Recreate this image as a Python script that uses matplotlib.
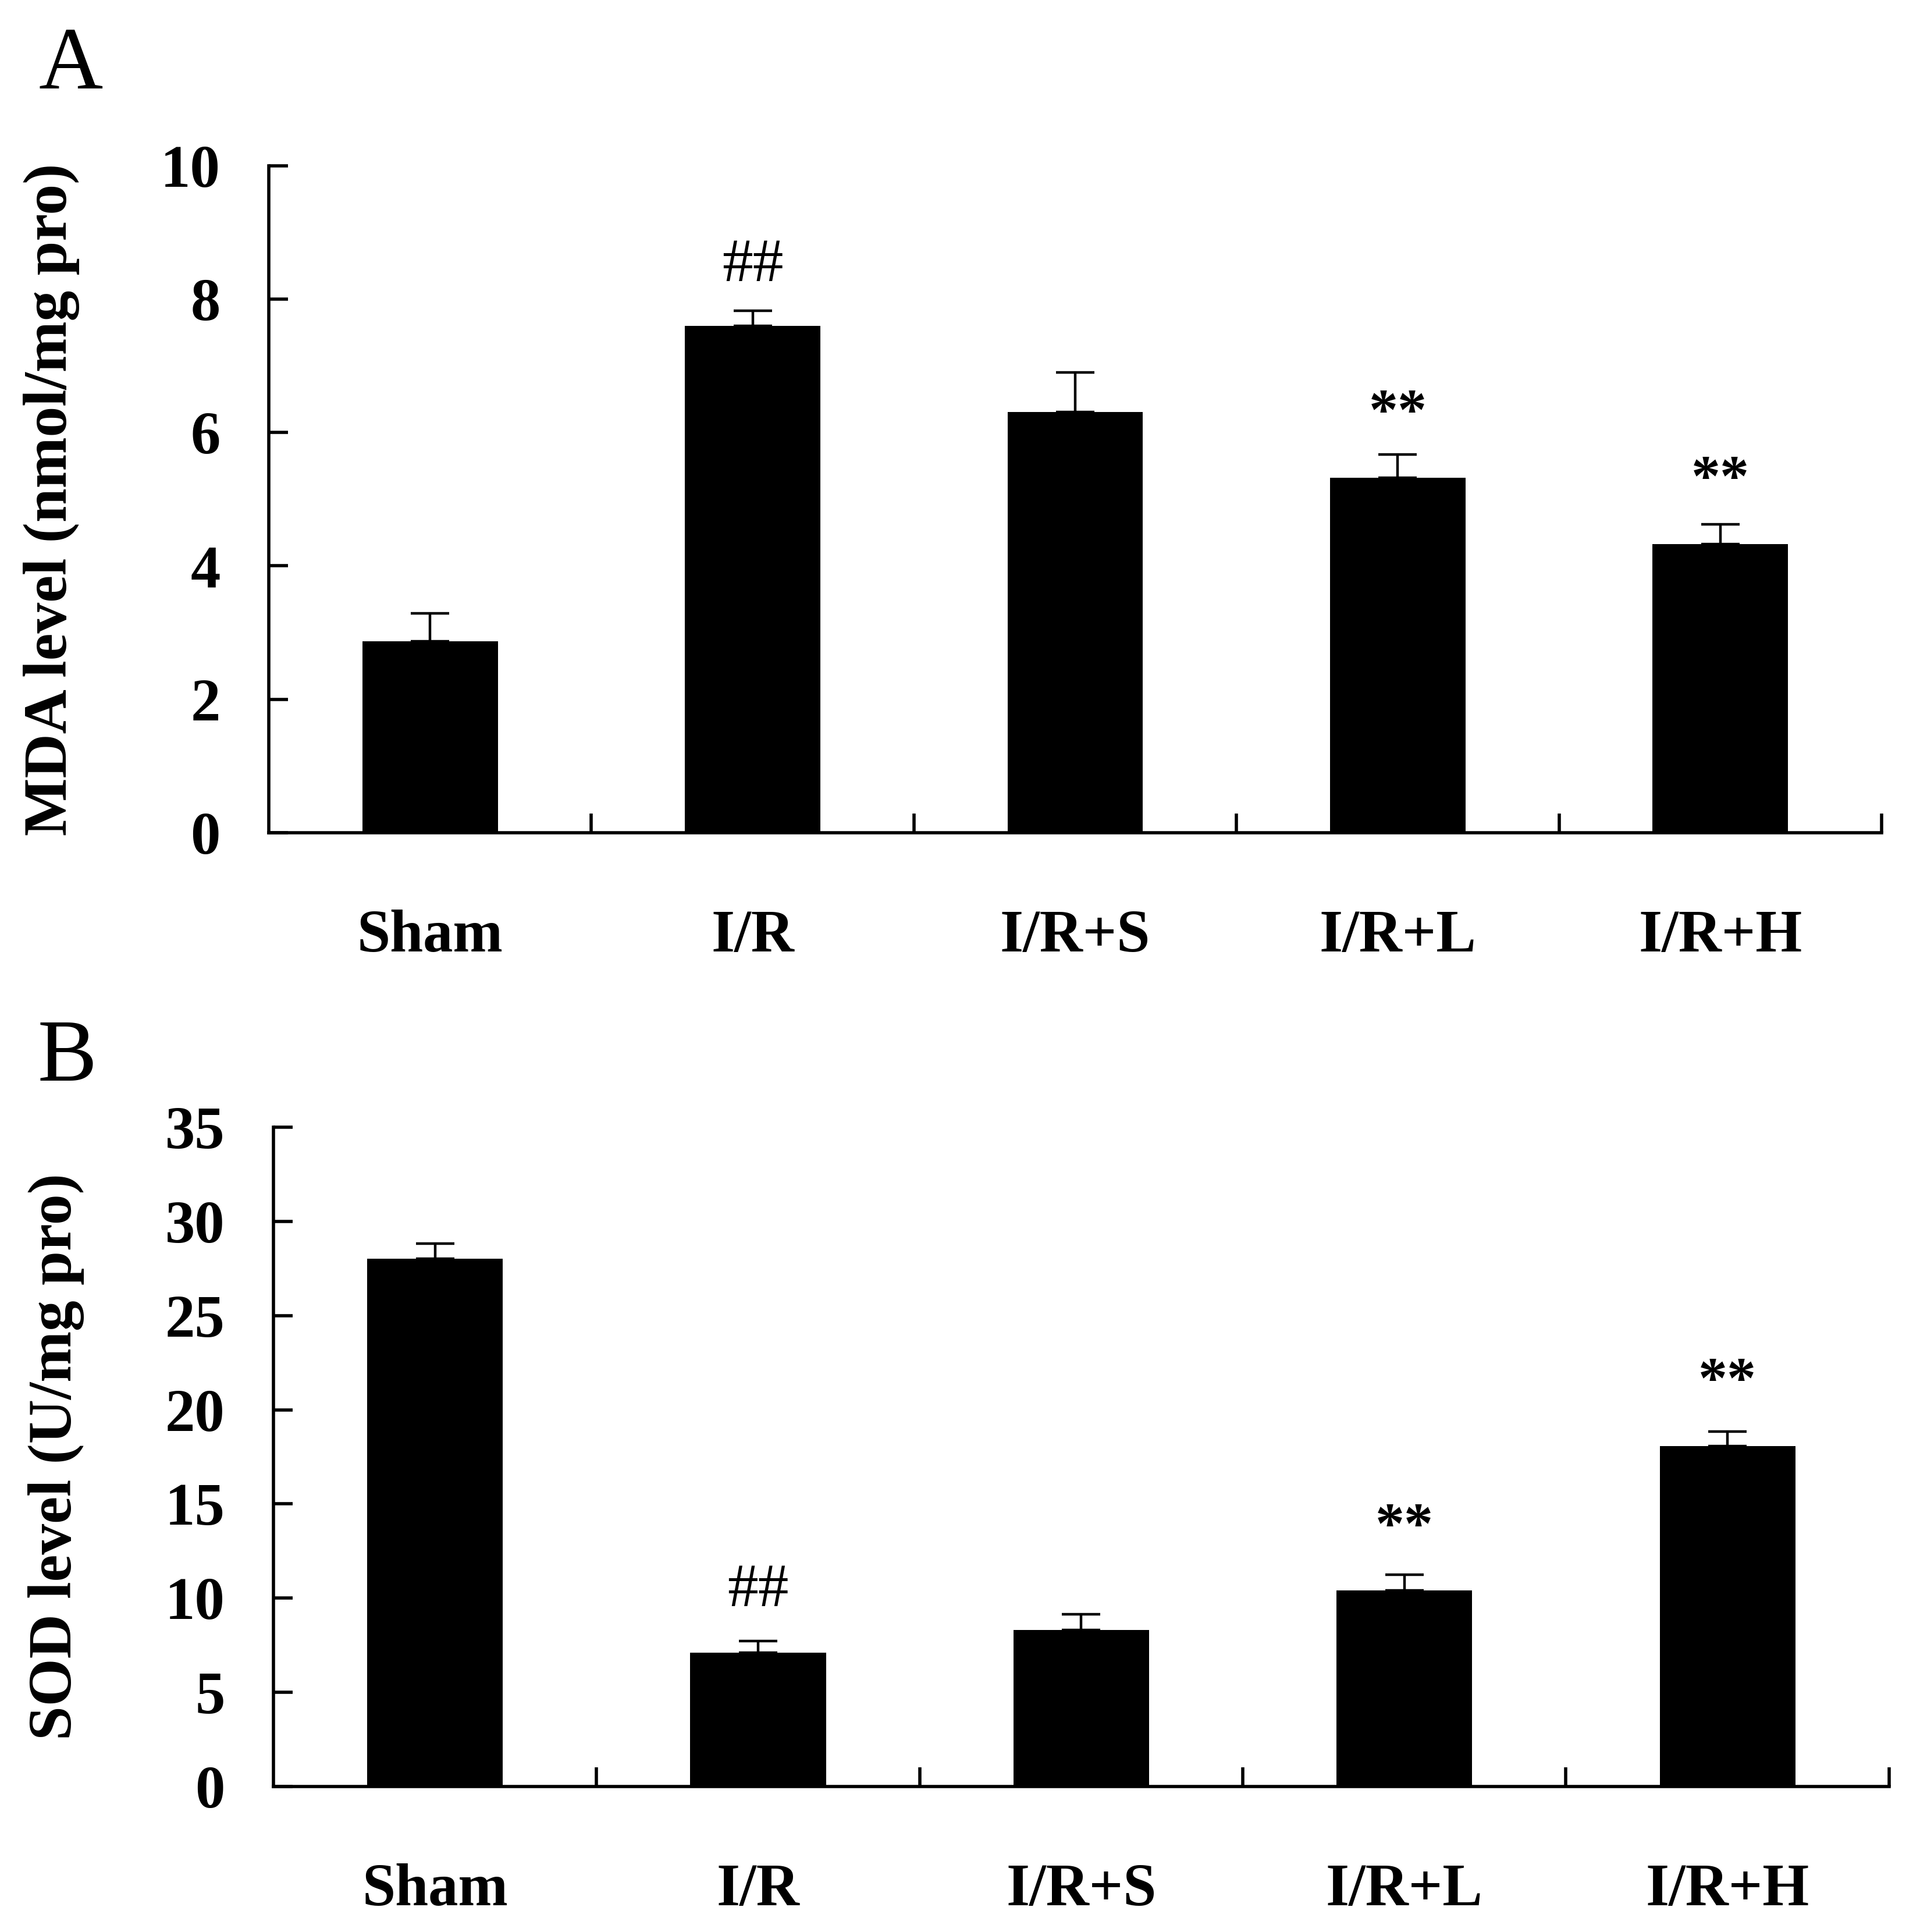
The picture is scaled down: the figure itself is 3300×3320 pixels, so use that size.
import numpy as np
import matplotlib
matplotlib.use("Agg")
import matplotlib.pyplot as plt

groups = ["Sham", "I/R", "I/R+S", "I/R+L", "I/R+H"]

# MDA (panel A)
mda_mean = [2.87, 7.60, 6.31, 5.32, 4.33]
mda_err = [0.42, 0.23, 0.59, 0.35, 0.29]
mda_marks = ["", "##", "", "**", "**"]
mda_mark_y = [0, 8.49, 0, 6.27, 5.28]

# SOD (panel B)
sod_mean = [28.02, 7.11, 8.31, 10.41, 18.07]
sod_err = [0.79, 0.62, 0.83, 0.83, 0.77]
sod_marks = ["", "##", "", "**", "**"]
sod_mark_y = [0, 10.35, 0, 13.72, 21.43]

plt.rcParams['font.family'] = ['Liberation Serif', 'DejaVu Serif']

fig = plt.figure(figsize=(33, 33.2), dpi=100)
axA = fig.add_axes([0.1400, 0.5690, 0.8400, 0.3452])
axB = fig.add_axes([0.1424, 0.0753, 0.8415, 0.3413])


def draw_panel(ax, means, errs, marks, mark_y, ymax, ystep, ylabel):
    x = np.arange(len(groups))
    lower = np.zeros(len(means))
    ax.bar(x, means, width=0.42, color="black", zorder=2)
    ax.errorbar(x, means, yerr=[lower, errs], fmt="none", ecolor="black",
                elinewidth=3.2, capsize=24, capthick=3.2, zorder=3)
    for xi, m, my in zip(x, marks, mark_y):
        if m == "##":
            ax.text(xi, my, m, ha="center", va="center", fontsize=76)
        elif m:
            ax.text(xi, my, m, ha="center", va="center", fontsize=72,
                    fontweight="bold")

    ax.set_xlim(-0.5, len(groups) - 0.5)
    ax.set_ylim(0, ymax)
    ax.spines["top"].set_visible(False)
    ax.spines["right"].set_visible(False)
    ax.spines["left"].set_linewidth(4)
    ax.spines["bottom"].set_linewidth(4)

    # boundary ticks between groups, names on minor ticks
    ax.set_xticks(np.arange(len(groups)) + 0.5)
    ax.set_xticklabels([])
    ax.set_xticks(x, minor=True)
    ax.set_xticklabels(groups, minor=True, fontsize=74, fontweight="bold")
    ax.tick_params(axis="x", which="major", direction="in", length=24, width=4)
    ax.tick_params(axis="x", which="minor", length=0, pad=95)

    yt = np.arange(0, ymax + 0.01, ystep)
    ax.set_yticks(yt)
    ax.set_yticklabels([f"{v:g}" for v in yt], fontsize=74, fontweight="bold")
    ax.tick_params(axis="y", direction="in", length=24, width=4, pad=60)
    ax.set_ylabel(ylabel, fontsize=76, fontweight="bold", labelpad=100)


draw_panel(axA, mda_mean, mda_err, mda_marks, mda_mark_y, 10, 2,
           "MDA level (nmol/mg pro)")
draw_panel(axB, sod_mean, sod_err, sod_marks, sod_mark_y, 35, 5,
           "SOD level (U/mg pro)")

fig.text(67 / 3300, 1 - 152 / 3320, "A", fontsize=110, ha="left", va="baseline")
fig.text(65 / 3300, 1 - 1857 / 3320, "B", fontsize=110, ha="left", va="baseline")

fig.savefig("out.png", dpi=100, facecolor="white")
